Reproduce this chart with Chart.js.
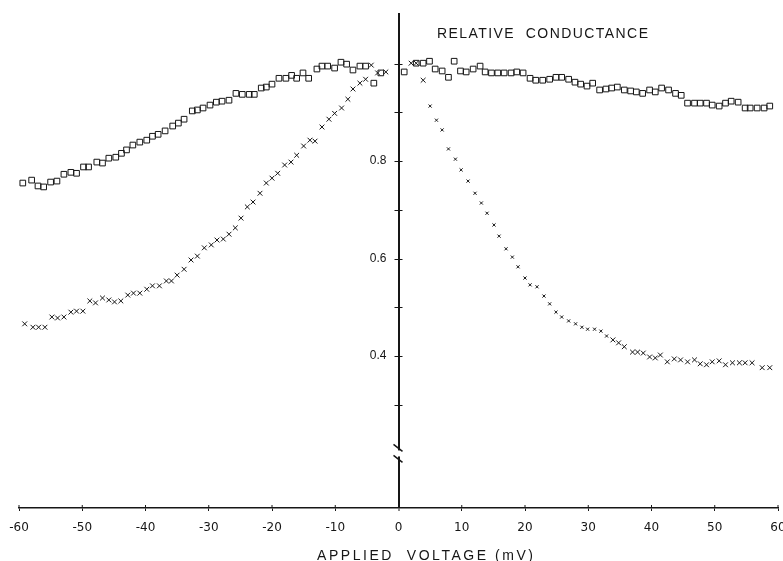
<!DOCTYPE html>
<html>
<head>
<meta charset="utf-8">
<script src="https://cdn.jsdelivr.net/npm/chart.js@4"></script>
<style>
  html, body { margin: 0; padding: 0; background: #fff; }
  canvas { display: block; }
</style>
</head>
<body>
<canvas id="myChart" width="783" height="561"></canvas>
<script>
// open squares
const squareX = [
  -59.4, -58.0, -57.0, -56.1, -55.0, -54.0, -52.9, -51.8, -50.9, -49.8,
  -49.0, -47.7, -46.8, -45.8, -44.7, -43.8, -43.0, -42.0, -40.9, -39.8,
  -38.9, -38.0, -36.9, -35.7, -34.8, -33.9, -32.6, -31.8, -30.9, -29.8,
  -28.8, -27.9, -26.8, -25.7, -24.7, -23.6, -22.8, -21.7, -20.9, -20.0,
  -18.9, -17.8, -16.9, -16.1, -15.1, -14.2, -12.9, -12.1, -11.2, -10.1,
  -9.1, -8.2, -7.2, -6.1, -5.2, -3.9, -2.8,
  0.9, 2.8, 3.9, 4.9, 5.8, 6.9, 7.9, 8.8, 9.8, 10.7,
  11.8, 12.9, 13.7, 14.7, 15.7, 16.7, 17.8, 18.7, 19.7, 20.8,
  21.7, 22.8, 23.9, 24.9, 25.8, 26.9, 27.9, 28.8, 29.8, 30.7,
  31.8, 32.8, 33.7, 34.6, 35.7, 36.7, 37.6, 38.6, 39.7, 40.6,
  41.6, 42.7, 43.8, 44.7, 45.7, 46.8, 47.7, 48.7, 49.6, 50.7,
  51.7, 52.6, 53.7, 54.8, 55.6, 56.7, 57.8, 58.7
];
const squareY = [
  0.755, 0.761, 0.749, 0.747, 0.757, 0.759, 0.773, 0.777, 0.775, 0.788,
  0.788, 0.798, 0.796, 0.806, 0.808, 0.816, 0.823, 0.833, 0.839, 0.843,
  0.851, 0.855, 0.862, 0.872, 0.878, 0.886, 0.903, 0.905, 0.909, 0.915,
  0.921, 0.923, 0.925, 0.939, 0.937, 0.937, 0.937, 0.950, 0.952, 0.958,
  0.970, 0.970, 0.976, 0.970, 0.981, 0.970, 0.989, 0.995, 0.995, 0.991,
  1.003, 0.999, 0.987, 0.995, 0.995, 0.960, 0.981,
  0.983, 1.001, 1.001, 1.005, 0.989, 0.985, 0.972, 1.005, 0.985, 0.983,
  0.989, 0.995, 0.983, 0.981, 0.981, 0.981, 0.981, 0.983, 0.981, 0.970,
  0.966, 0.966, 0.968, 0.972, 0.972, 0.968, 0.962, 0.958, 0.954, 0.960,
  0.946, 0.948, 0.950, 0.952, 0.946, 0.944, 0.942, 0.939, 0.946, 0.942,
  0.950, 0.946, 0.939, 0.935, 0.919, 0.919, 0.919, 0.919, 0.915, 0.913,
  0.919, 0.923, 0.921, 0.909, 0.909, 0.909, 0.909, 0.913
];

// crosses
const crossX = [
  -59.1, -57.8, -56.9, -55.9, -54.8, -53.9, -52.9, -51.8, -50.9, -49.9,
  -48.8, -47.9, -46.8, -45.8, -44.9, -43.9, -42.8, -41.9, -40.9, -39.8,
  -38.9, -37.8, -36.7, -35.9, -35.0, -33.9, -32.8, -31.8, -30.7, -29.6,
  -28.7, -27.7, -26.8, -25.8, -24.9, -23.9, -23.0, -21.9, -20.9, -20.0,
  -19.1, -18.0, -17.0, -16.1, -15.0, -14.0, -13.2, -12.1, -11.0, -10.1,
  -9.0, -8.0, -7.2, -6.1, -5.2, -4.3, -3.3, -2.0,
  2.0, 2.8, 3.9, 5.0, 6.0, 6.9, 7.9, 9.0, 9.9, 11.0,
  12.1, 13.1, 14.0, 15.1, 15.9, 17.0, 18.0, 18.9, 20.0, 20.8,
  21.9, 23.0, 23.9, 24.9, 25.8, 26.9, 28.0, 29.0, 29.9, 31.0,
  32.0, 32.9, 33.9, 34.8, 35.7, 37.0, 37.8, 38.7, 39.7, 40.6,
  41.4, 42.5, 43.6, 44.6, 45.7, 46.8, 47.7, 48.7, 49.6, 50.7,
  51.7, 52.8, 53.9, 54.8, 55.9, 57.5, 58.7
];
const crossY = [
  0.466, 0.459, 0.459, 0.459, 0.480, 0.478, 0.480, 0.490, 0.492, 0.492,
  0.513, 0.509, 0.519, 0.515, 0.511, 0.513, 0.525, 0.529, 0.529, 0.537,
  0.544, 0.544, 0.554, 0.554, 0.566, 0.578, 0.597, 0.605, 0.622, 0.628,
  0.638, 0.640, 0.650, 0.663, 0.683, 0.706, 0.716, 0.734, 0.755, 0.765,
  0.775, 0.792, 0.798, 0.812, 0.831, 0.843, 0.841, 0.870, 0.886, 0.898,
  0.909, 0.927, 0.948, 0.960, 0.968, 0.997, 0.981, 0.983,
  1.001, 1.001, 0.966, 0.913, 0.884, 0.864, 0.825, 0.804, 0.782, 0.759,
  0.734, 0.714, 0.693, 0.669, 0.646, 0.620, 0.603, 0.583, 0.560, 0.546,
  0.542, 0.523, 0.507, 0.490, 0.480, 0.472, 0.466, 0.459, 0.455, 0.455,
  0.451, 0.441, 0.433, 0.427, 0.419, 0.408, 0.408, 0.406, 0.398, 0.396,
  0.402, 0.388, 0.394, 0.392, 0.388, 0.392, 0.384, 0.382, 0.388, 0.390,
  0.382, 0.386, 0.386, 0.386, 0.386, 0.376, 0.376
];

const xTicks = [-60, -50, -40, -30, -20, -10, 0, 10, 20, 30, 40, 50, 60];
const yTicks = [0.3, 0.4, 0.5, 0.6, 0.7, 0.8, 0.9, 1.0];
const yLabelled = [0.4, 0.6, 0.8];
const yBreak = 0.2;

const chartTitle = "RELATIVE  CONDUCTANCE";
const xTitle = "APPLIED  VOLTAGE (mV)";

const ink = "#161616";

function toPoints(xs, ys) {
  return xs.map((x, i) => ({ x: x, y: ys[i] }));
}

// text stretched to a given width with letter spacing
function spacedText(g, text, x, y, width) {
  g.letterSpacing = "0px";
  const w = g.measureText(text).width;
  g.letterSpacing = (width - w) / (text.length - 1) + "px";
  g.fillText(text, x, y);
  g.letterSpacing = "0px";
}

const axisExtras = {
  id: "axisExtras",
  afterDraw(c) {
    const g = c.ctx;
    const xs = c.scales.x;
    const ys = c.scales.y;
    const x0 = xs.getPixelForValue(0);
    const bottom = c.chartArea.bottom;
    g.save();
    g.strokeStyle = ink;
    g.lineWidth = 1;

    // upper half of the x tick marks, y tick marks across the axis
    xs.ticks.forEach((t) => {
      const px = xs.getPixelForValue(t.value);
      g.beginPath();
      g.moveTo(px, bottom);
      g.lineTo(px, bottom - 3);
      g.stroke();
    });
    ys.ticks.forEach((t) => {
      const py = Math.round(ys.getPixelForValue(t.value)) + 0.5;
      g.beginPath();
      g.moveTo(x0 - 4, py);
      g.lineTo(x0 + 4, py);
      g.stroke();
    });

    // axis break
    const yb = ys.getPixelForValue(yBreak);
    g.fillStyle = "#fff";
    g.fillRect(x0 - 3, yb - 3, 6, 6);
    g.lineWidth = 1.5;
    g.beginPath();
    g.moveTo(x0 - 5, yb - 9);
    g.lineTo(x0 + 4, yb - 2);
    g.moveTo(x0 - 5, yb + 2);
    g.lineTo(x0 + 4, yb + 9);
    g.stroke();

    // titles
    g.fillStyle = ink;
    g.textBaseline = "alphabetic";
    g.textAlign = "left";
    g.font = "14px 'Liberation Sans'";
    spacedText(g, chartTitle, 437, 38, 211);
    spacedText(g, xTitle, 317, 560, 216);
    g.restore();
  },
};

const ctx = document.getElementById("myChart");

const chart = new Chart(ctx, {
  type: "scatter",
  data: {
    datasets: [
      {
        label: "squares",
        data: toPoints(squareX, squareY),
        pointStyle: "rect",
        pointRadius: 4,
        pointBorderWidth: 1,
        pointBorderColor: ink,
        pointBackgroundColor: "rgba(0,0,0,0)",
        showLine: false,
      },
      {
        label: "crosses",
        data: toPoints(crossX, crossY),
        pointStyle: "crossRot",
        pointRadius: (c) => {
          const v = c.raw ? c.raw.x : 0;
          return v > 4.5 && v < 33 ? 2.2 : 3.4;
        },
        pointBorderWidth: 1,
        pointBorderColor: ink,
        pointBackgroundColor: ink,
        showLine: false,
      },
    ],
  },
  options: {
    responsive: false,
    animation: false,
    layout: {
      padding: { left: 19, right: 2, top: 13, bottom: 0 },
    },
    plugins: {
      legend: { display: false },
      tooltip: { enabled: false },
    },
    scales: {
      x: {
        type: "linear",
        position: "bottom",
        min: -60,
        max: 60,
        afterBuildTicks: (s) => {
          s.ticks = xTicks.map((v) => ({ value: v }));
        },
        afterFit: (s) => {
          s.height = 53;
          s.paddingLeft = 0;
          s.paddingRight = 0;
        },
        border: { display: true, color: ink, width: 1.5 },
        // only the grid line at 0 is shown: it is the vertical axis
        grid: {
          display: true,
          drawOnChartArea: true,
          drawTicks: true,
          tickLength: 3,
          color: (c) => (c.tick && c.tick.value === 0 ? ink : "rgba(0,0,0,0)"),
          lineWidth: (c) => (c.tick && c.tick.value === 0 ? 2 : 1),
          tickColor: ink,
          tickWidth: 1,
        },
        ticks: {
          autoSkip: false,
          maxRotation: 0,
          padding: 10,
          color: ink,
          font: { family: "DejaVu Sans", size: 12 },
          callback: (v) => String(v),
        },
      },
      y: {
        type: "linear",
        // labels end 12px left of the vertical axis
        position: { x: -1.9 },
        min: 0.088,
        max: 1.104,
        afterBuildTicks: (s) => {
          s.ticks = yTicks.map((v) => ({ value: v }));
        },
        afterFit: (s) => {
          s.paddingTop = 0;
          s.paddingBottom = 0;
        },
        border: { display: false },
        grid: { display: false },
        ticks: {
          autoSkip: false,
          padding: 0,
          color: ink,
          font: { family: "Liberation Sans", size: 12 },
          callback: (v) =>
            yLabelled.some((l) => Math.abs(l - v) < 1e-6) ? v.toFixed(1) : "",
        },
      },
    },
  },
  plugins: [axisExtras],
});
</script>
</body>
</html>
